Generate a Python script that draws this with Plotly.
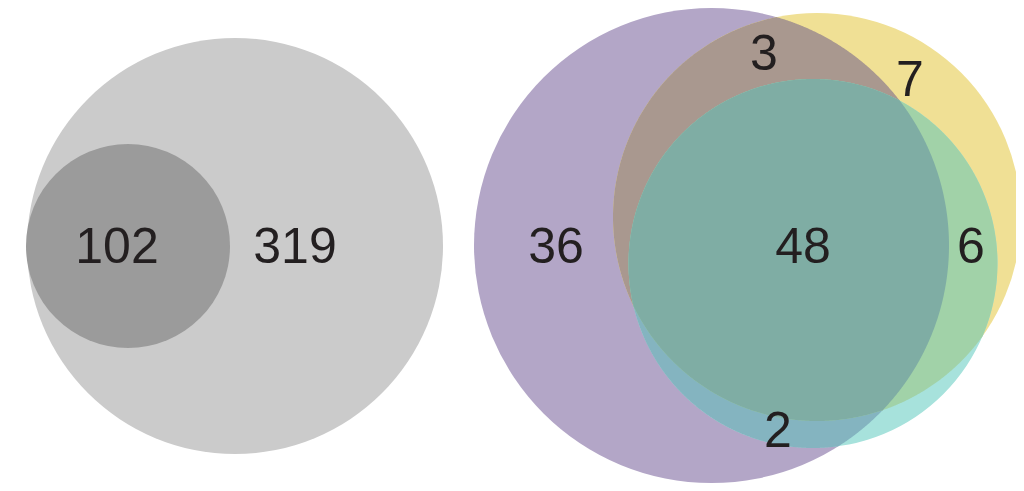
import numpy as np
import plotly.graph_objects as go

# ---- data ----
left_counts = [102, 319]
right_counts = [36, 3, 7, 48, 6, 2]

# ---- layout geometry (pixel coords) ----
left_label_x = [117, 295]
left_label_y = [250, 250]
right_label_x = [556, 764, 910, 803, 971, 778]
right_label_y = [250, 57, 83, 250, 250, 434]

# circles: (cx, cy, r)
big_gray = (235, 246, 208)
small_gray = (128, 246, 102)
purple = (711.5, 245.5, 237.5)
yellow = (817, 217, 204)
teal = (813, 263.5, 184.5)

C_LIGHT = "#cbcbcb"
C_DARK = "#9b9b9b"
C_P = "#b3a6c7"
C_Y = "#f0e095"
C_T = "#a7e2dc"
C_PY = "#a9988f"
C_PT = "#84b4c0"
C_YT = "#a1d2a8"
C_PYT = "#7fada4"
C_TEXT = "#231f20"

# the page puts an 8px body margin around the figure; size the figure so
# it fits in the window and shift the ranges to match
OFF = 8
W, H = 1024, 491


def circle_shape(c, color):
    cx, cy, r = c
    return dict(type="circle", xref="x", yref="y", x0=cx - r, x1=cx + r,
                y0=cy - r, y1=cy + r, fillcolor=color, line=dict(width=0),
                layer="below")


def inside(pts, c):
    cx, cy, r = c
    return (pts[:, 0] - cx) ** 2 + (pts[:, 1] - cy) ** 2 <= r * r + 1e-6


def intersection_path(circles, n=1440):
    pts_all = []
    for i, (cx, cy, r) in enumerate(circles):
        t = np.linspace(0, 2 * np.pi, n, endpoint=False)
        pts = np.column_stack([cx + r * np.cos(t), cy + r * np.sin(t)])
        mask = np.ones(len(pts), bool)
        for j, c2 in enumerate(circles):
            if j != i:
                mask &= inside(pts, c2)
        pts_all.append(pts[mask])
    for i in range(len(circles)):
        for j in range(i + 1, len(circles)):
            (x1, y1, r1), (x2, y2, r2) = circles[i], circles[j]
            d = np.hypot(x2 - x1, y2 - y1)
            if d == 0 or d > r1 + r2 or d < abs(r1 - r2):
                continue
            a = (r1 ** 2 - r2 ** 2 + d ** 2) / (2 * d)
            h = np.sqrt(max(r1 ** 2 - a ** 2, 0))
            xm = x1 + a * (x2 - x1) / d
            ym = y1 + a * (y2 - y1) / d
            cand = np.array([[xm + h * (y2 - y1) / d, ym - h * (x2 - x1) / d],
                             [xm - h * (y2 - y1) / d, ym + h * (x2 - x1) / d]])
            m = np.ones(2, bool)
            for k, c3 in enumerate(circles):
                if k not in (i, j):
                    m &= inside(cand, c3)
            pts_all.append(cand[m])
    pts = np.vstack(pts_all)
    ctr = pts.mean(axis=0)
    ang = np.arctan2(pts[:, 1] - ctr[1], pts[:, 0] - ctr[0])
    pts = pts[np.argsort(ang)]
    return "M " + " L ".join(f"{x:.2f},{y:.2f}" for x, y in pts) + " Z"


shapes = [
    circle_shape(big_gray, C_LIGHT),
    circle_shape(small_gray, C_DARK),
    circle_shape(purple, C_P),
    circle_shape(yellow, C_Y),
    circle_shape(teal, C_T),
]
for circs, col in [((purple, yellow), C_PY), ((purple, teal), C_PT),
                   ((yellow, teal), C_YT), ((purple, yellow, teal), C_PYT)]:
    shapes.append(dict(type="path", xref="x", yref="y", path=intersection_path(circs),
                       fillcolor=col, line=dict(width=0), layer="below"))

font = dict(family="Liberation Sans, Arial, sans-serif", size=50, color=C_TEXT)
fig = go.Figure()
fig.add_trace(go.Scatter(
    x=left_label_x, y=left_label_y, mode="text",
    text=[str(v) for v in left_counts], textposition="middle center",
    textfont=font, hoverinfo="skip", showlegend=False, cliponaxis=False))
fig.add_trace(go.Scatter(
    x=right_label_x, y=right_label_y, mode="text",
    text=[str(v) for v in right_counts], textposition="middle center",
    textfont=font, hoverinfo="skip", showlegend=False, cliponaxis=False))

fig_w = W - OFF
fig_h = H - OFF
fig.update_layout(
    width=fig_w, height=fig_h, margin=dict(l=0, r=0, t=0, b=0),
    paper_bgcolor="white", plot_bgcolor="white", shapes=shapes,
    xaxis=dict(range=[OFF, OFF + fig_w], visible=False, fixedrange=True),
    yaxis=dict(range=[OFF + fig_h, OFF], visible=False, fixedrange=True),
    showlegend=False,
)
fig.write_html("out.html", config={"displayModeBar": False})
